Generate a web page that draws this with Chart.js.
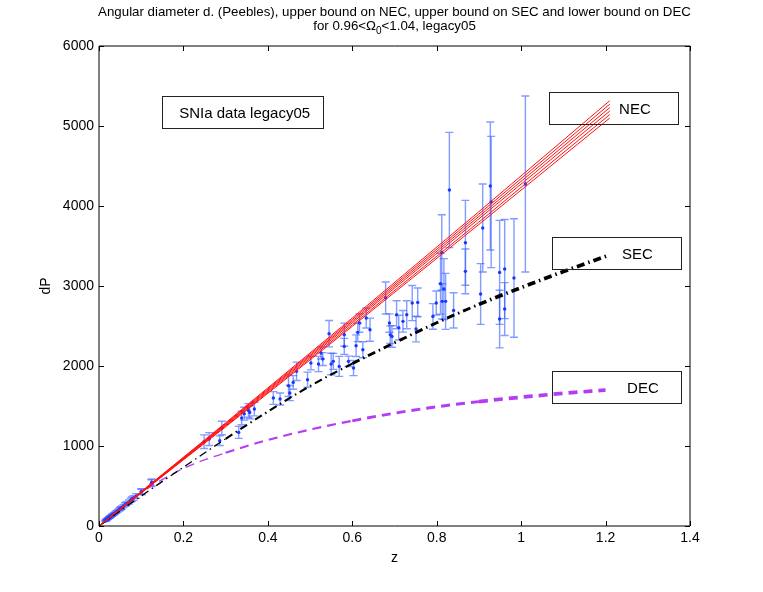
<!DOCTYPE html>
<html>
<head>
<meta charset="utf-8">
<script src="https://cdn.jsdelivr.net/npm/chart.js@4.4.0/dist/chart.umd.min.js"></script>
<style>
  html, body { margin: 0; padding: 0; background: #fff; }
</style>
</head>
<body>
<canvas id="graph" width="763" height="592"></canvas>
<script>
// tick labels
var xTicks = [0, 0.2, 0.4, 0.6, 0.8, 1, 1.2, 1.4];
var yTicks = [0, 1000, 2000, 3000, 4000, 5000, 6000];

// SNIa legacy05 points: redshift, distance, error
var snZ = [0.015, 0.016, 0.017, 0.018, 0.019, 0.02, 0.021, 0.022, 0.023, 0.024, 0.025, 0.026, 0.027, 0.028,
  0.03, 0.031, 0.032, 0.034, 0.036, 0.038, 0.04, 0.042, 0.045, 0.048, 0.05, 0.052, 0.054, 0.058, 0.062,
  0.065, 0.071, 0.075, 0.078, 0.082, 0.088, 0.1, 0.101, 0.124, 0.125,
  0.249, 0.261, 0.286, 0.291, 0.331, 0.338, 0.344, 0.354, 0.357, 0.368, 0.413, 0.429, 0.449, 0.452,
  0.46, 0.468, 0.494, 0.502, 0.52, 0.526, 0.53, 0.545, 0.55, 0.555, 0.569, 0.581, 0.581, 0.591, 0.603,
  0.609, 0.613, 0.617, 0.625, 0.633, 0.642, 0.679, 0.688, 0.69, 0.694, 0.705, 0.71, 0.72, 0.729, 0.742,
  0.751, 0.755, 0.791, 0.799, 0.809, 0.812, 0.813, 0.817, 0.821, 0.83, 0.84, 0.868, 0.868, 0.904, 0.909,
  0.927, 0.929, 0.949, 0.949, 0.961, 0.961, 0.983, 1.01];
var snD = [62, 70, 72, 80, 83, 88, 92, 97, 100, 105, 110, 112, 118, 120,
  130, 134, 140, 146, 155, 162, 172, 180, 192, 205, 215, 222, 232, 250, 268,
  280, 300, 322, 335, 350, 375, 430, 425, 535, 545,
  1054, 1087, 1066, 1225, 1170, 1350, 1404, 1445, 1420, 1462, 1600, 1587, 1754, 1662,
  1795, 1933, 1829, 2037, 2025, 2162, 2087, 2404, 2025, 2058, 1995, 2391, 2245, 2058, 1975,
  2254, 2420, 2537, 2204, 2600, 2454, 2850, 2537, 2391, 2370, 2641, 2480, 2558, 2641, 2787,
  2462, 2795, 2620, 2787, 3029, 3420, 2808, 2962, 2808, 4200, 2695, 3540, 3183, 2900, 3725,
  4250, 4050, 3170, 2587, 3212, 2712, 3100, 4275];
var snErr = [6, 6, 6, 7, 7, 7, 8, 8, 8, 9, 9, 9, 10, 10,
  10, 11, 11, 12, 12, 13, 14, 15, 16, 17, 18, 18, 19, 20, 22,
  23, 25, 26, 27, 28, 30, 35, 35, 43, 44,
  85, 80, 60, 85, 75, 85, 80, 85, 80, 85, 80, 75, 135, 95,
  85, 115, 95, 85, 95, 75, 80, 165, 135, 100, 125, 145, 100, 65, 95,
  135, 115, 115, 100, 125, 145, 200, 115, 110, 135, 175, 155, 135, 175, 220,
  160, 180, 160, 150, 380, 470, 220, 380, 350, 720, 220, 530, 280, 380, 550,
  800, 820, 650, 360, 620, 330, 740, 1100];

// upper bound on NEC, one line per Omega_0
var necZ = [0, 0.3, 0.6, 0.9, 1.21];
var nec1 = [0, 1290, 2600, 3930, 5316];
var nec2 = [0, 1280, 2580, 3900, 5273];
var nec3 = [0, 1270, 2560, 3870, 5230];
var nec4 = [0, 1260, 2540, 3840, 5187];
var nec5 = [0, 1250, 2515, 3800, 5143];
var nec6 = [0, 1240, 2495, 3770, 5100];

// upper bound on SEC
var secZ = [0, 0.1, 0.2, 0.3, 0.4, 0.5, 0.6, 0.7, 0.8, 0.9, 1.0, 1.1, 1.21];
var sec = [0, 375, 735, 1090, 1430, 1750, 2030, 2290, 2540, 2770, 2980, 3180, 3390];

// lower bound on DEC
var decZ = [0, 0.1, 0.2, 0.3, 0.4, 0.5, 0.6, 0.7, 0.8, 0.9, 1.0, 1.1, 1.2];
var dec = [0, 415, 720, 915, 1075, 1205, 1315, 1410, 1490, 1555, 1610, 1658, 1700];

// text boxes in data coordinates
var notes = [
  {text: 'SNIa data legacy05', x0: 0.15, x1: 0.53, y0: 4975, y1: 5375, tx: 0.19},
  {text: 'NEC', x0: 1.065, x1: 1.371, y0: 5025, y1: 5425, tx: 1.232},
  {text: 'SEC', x0: 1.072, x1: 1.378, y0: 3212, y1: 3612, tx: 1.239},
  {text: 'DEC', x0: 1.072, x1: 1.378, y0: 1537, y1: 1937, tx: 1.251}
];

var FONT = '"Liberation Sans", Arial, Helvetica, sans-serif';

function pairs(xs, ys) {
  return xs.map(function(x, i) { return {x: x, y: ys[i]}; });
}

function growWidth(ctx) {
  var z = ctx.p0.parsed.x;
  if (z < 0.3) return 1.3;
  if (z < 0.6) return 2.1;
  if (z < 0.9) return 2.9;
  return 3.7;
}

var necLines = [nec1, nec2, nec3, nec4, nec5, nec6].map(function(vals) {
  return {
    data: pairs(necZ, vals),
    borderColor: '#ff1010',
    borderWidth: 1,
    pointRadius: 0,
    fill: false
  };
});

var datasets = necLines.concat([
  {
    data: pairs(secZ, sec),
    borderColor: '#000',
    borderWidth: 1.3,
    borderDash: [8, 4, 1.5, 4],
    cubicInterpolationMode: 'monotone',
    pointRadius: 0,
    fill: false,
    segment: {borderWidth: growWidth}
  },
  {
    data: pairs(decZ, dec),
    borderColor: '#b53cf2',
    borderWidth: 1.3,
    borderDash: [9, 6],
    cubicInterpolationMode: 'monotone',
    pointRadius: 0,
    fill: false,
    segment: {borderWidth: growWidth}
  },
  {
    data: pairs(snZ, snD),
    showLine: false,
    pointRadius: 1.7,
    pointBorderWidth: 0,
    pointBackgroundColor: '#1a36ff',
    borderColor: '#1a36ff'
  }
]);

var errorBars = {
  id: 'errorBars',
  beforeDatasetsDraw: function(chart) {
    var ctx = chart.ctx, xs = chart.scales.x, ys = chart.scales.y;
    var a = chart.chartArea;
    ctx.save();
    ctx.beginPath();
    ctx.rect(a.left, a.top, a.right - a.left, a.bottom - a.top);
    ctx.clip();
    ctx.strokeStyle = 'rgba(55, 95, 255, 0.62)';
    ctx.lineWidth = 1.4;
    for (var i = 0; i < snZ.length; i++) {
      var px = xs.getPixelForValue(snZ[i]);
      var lo = ys.getPixelForValue(snD[i] - snErr[i]);
      var hi = ys.getPixelForValue(snD[i] + snErr[i]);
      ctx.beginPath();
      ctx.moveTo(px, lo); ctx.lineTo(px, hi);
      ctx.moveTo(px - 4, lo); ctx.lineTo(px + 4, lo);
      ctx.moveTo(px - 4, hi); ctx.lineTo(px + 4, hi);
      ctx.stroke();
    }
    ctx.restore();
  }
};

var frame = {
  id: 'frame',
  afterDatasetsDraw: function(chart) {
    var ctx = chart.ctx, xs = chart.scales.x, ys = chart.scales.y;
    var a = chart.chartArea;
    ctx.save();
    // text boxes
    ctx.strokeStyle = '#222';
    ctx.lineWidth = 1;
    ctx.fillStyle = '#000';
    ctx.font = '15px ' + FONT;
    ctx.textBaseline = 'middle';
    ctx.textAlign = 'left';
    notes.forEach(function(n) {
      var l = Math.round(xs.getPixelForValue(n.x0)) + 0.5;
      var r = Math.round(xs.getPixelForValue(n.x1)) + 0.5;
      var t = Math.round(ys.getPixelForValue(n.y1)) + 0.5;
      var b = Math.round(ys.getPixelForValue(n.y0)) + 0.5;
      ctx.strokeRect(l, t, r - l, b - t);
      ctx.fillText(n.text, xs.getPixelForValue(n.tx), (t + b) / 2 + 1);
    });
    // axes box with inward ticks
    ctx.strokeStyle = '#000';
    ctx.beginPath();
    ctx.rect(a.left, a.top, a.right - a.left, a.bottom - a.top);
    xTicks.forEach(function(v) {
      var p = Math.round(xs.getPixelForValue(v)) + 0.5;
      ctx.moveTo(p, a.bottom); ctx.lineTo(p, a.bottom - 5);
      ctx.moveTo(p, a.top); ctx.lineTo(p, a.top + 5);
    });
    yTicks.forEach(function(v) {
      var p = Math.round(ys.getPixelForValue(v)) + 0.5;
      ctx.moveTo(a.left, p); ctx.lineTo(a.left + 5, p);
      ctx.moveTo(a.right, p); ctx.lineTo(a.right - 5, p);
    });
    ctx.stroke();

    // axis titles
    ctx.font = '14px ' + FONT;
    ctx.textAlign = 'center';
    ctx.fillText('z', (a.left + a.right) / 2, a.bottom + 32);
    ctx.save();
    ctx.translate(a.left - 53, (a.top + a.bottom) / 2);
    ctx.rotate(-Math.PI / 2);
    ctx.fillText('dP', 0, 0);
    ctx.restore();

    // title with subscript
    var cx = (a.left + a.right) / 2;
    ctx.font = '13.3px ' + FONT;
    ctx.textAlign = 'center';
    ctx.textBaseline = 'alphabetic';
    ctx.fillText('Angular diameter d. (Peebles), upper bound on NEC, upper bound on SEC and lower bound on DEC', cx, 16);
    var p1 = 'for 0.96<\u03A9', sub = '0', p2 = '<1.04, legacy05';
    var w1 = ctx.measureText(p1).width, w2 = ctx.measureText(p2).width;
    ctx.font = '10px ' + FONT;
    var ws = ctx.measureText(sub).width;
    var start = cx - (w1 + ws + w2) / 2;
    ctx.textAlign = 'left';
    ctx.font = '13.3px ' + FONT;
    ctx.fillText(p1, start, 30);
    ctx.font = '10px ' + FONT;
    ctx.fillText(sub, start + w1, 34);
    ctx.font = '13.3px ' + FONT;
    ctx.fillText(p2, start + w1 + ws, 30);
    ctx.restore();
  }
};

var config = {
  type: 'line',
  data: {datasets: datasets},
  plugins: [errorBars, frame],
  options: {
    responsive: false,
    animation: false,
    devicePixelRatio: 1,
    layout: {padding: {top: 46, right: 73, bottom: 36, left: 0}},
    plugins: {legend: {display: false}, tooltip: {enabled: false}, title: {display: false}},
    scales: {
      x: {
        type: 'linear',
        min: 0,
        max: 1.4,
        afterBuildTicks: function(scale) { scale.ticks = xTicks.map(function(v) { return {value: v}; }); },
        afterFit: function(scale) { scale.height = 30; },
        grid: {display: false, drawTicks: false},
        border: {display: false},
        ticks: {
          padding: 4,
          color: '#000',
          font: {family: FONT, size: 14},
          maxRotation: 0,
          autoSkip: false,
          callback: function(v) { return String(+v.toFixed(1)); }
        }
      },
      y: {
        type: 'linear',
        min: 0,
        max: 6000,
        afterBuildTicks: function(scale) { scale.ticks = yTicks.map(function(v) { return {value: v}; }); },
        afterFit: function(scale) { scale.width = 99; },
        grid: {display: false, drawTicks: false},
        border: {display: false},
        ticks: {
          padding: 5,
          color: '#000',
          font: {family: FONT, size: 14},
          autoSkip: false,
          callback: function(v) { return String(v); }
        }
      }
    }
  }
};

var chart = new Chart(document.getElementById('graph').getContext('2d'), config);
</script>
</body>
</html>
